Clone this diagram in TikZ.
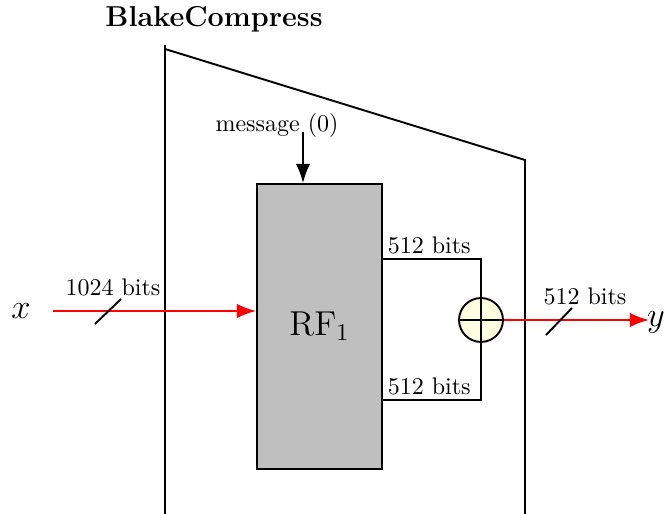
\documentclass[tikz,border=0pt]{standalone}
\usepackage{amsmath}
\usepackage{tikz}
\usetikzlibrary{arrows.meta,positioning,calc}

\begin{document}
\begin{tikzpicture}[
  x=0.4167pt,y=-0.4167pt,
  rf/.style={rectangle,draw,thick,fill=gray!50,minimum width=52pt,minimum height=118.75pt,font=\Large},
  xorc/.style={circle,draw,thick,fill=yellow!12,minimum size=18.3pt,inner sep=0pt},
  arr/.style={-{Latex[length=8pt,width=6pt]},thick,color=red},
  msg/.style={-{Latex[length=8pt,width=6pt]},thick},
  lbl/.style={inner sep=1pt,font=\normalsize}
]
  \useasboundingbox (0,0) rectangle (665,514);
  % title and enclosing block
  \node[font=\large\bfseries] (title) at (214,19) {BlakeCompress};
  \draw[thick] (165,514) -- (165,45);
  \draw[thick] (165,49) -- (525,160) -- (525,514);

  % round function
  \node[rf] (rf) at (319.5,326.5) {RF$_1$};
  \node[lbl] (msg) at (277,126) {message (0)};
  \coordinate (m0) at (303,132);
  \draw[msg] (m0) -- (m0 |- rf.north);

  % input
  \node[inner sep=1pt,font=\Large] (x) at (21,311) {$x$};
  \draw[arr,shorten <=8pt] (x.east) -- (x.east -| rf.west);
  \draw[thick] (95,324) -- (121,299);
  \node[lbl] (inlbl) at (113,287) {1024 bits};

  % feed-forward to xor
  \node[xorc] (xor) at (481,320) {};
  \draw[thick] (xor.west) -- (xor.east);
  \coordinate (t) at (382,259);
  \coordinate (b) at (382,400);
  \draw[thick] (t) -| (xor.north);
  \draw[thick] (b) -| (xor.south);
  \draw[thick] (xor.north) -- (xor.south);
  \node[lbl,anchor=south west] (tlbl) at ($(t)+(3,-2)$) {512 bits};
  \node[lbl,anchor=south west] (blbl) at ($(b)+(3,-2)$) {512 bits};

  % output
  \node[inner sep=1pt,font=\Large] (y) at (656,322) {$y$};
  \draw[arr,shorten >=-2pt] (xor.east) -- (xor.east -| y.west);
  \draw[thick] (546,335) -- (572,308);
  \node[lbl] (outlbl) at (585,296) {512 bits};
\end{tikzpicture}
\end{document}
